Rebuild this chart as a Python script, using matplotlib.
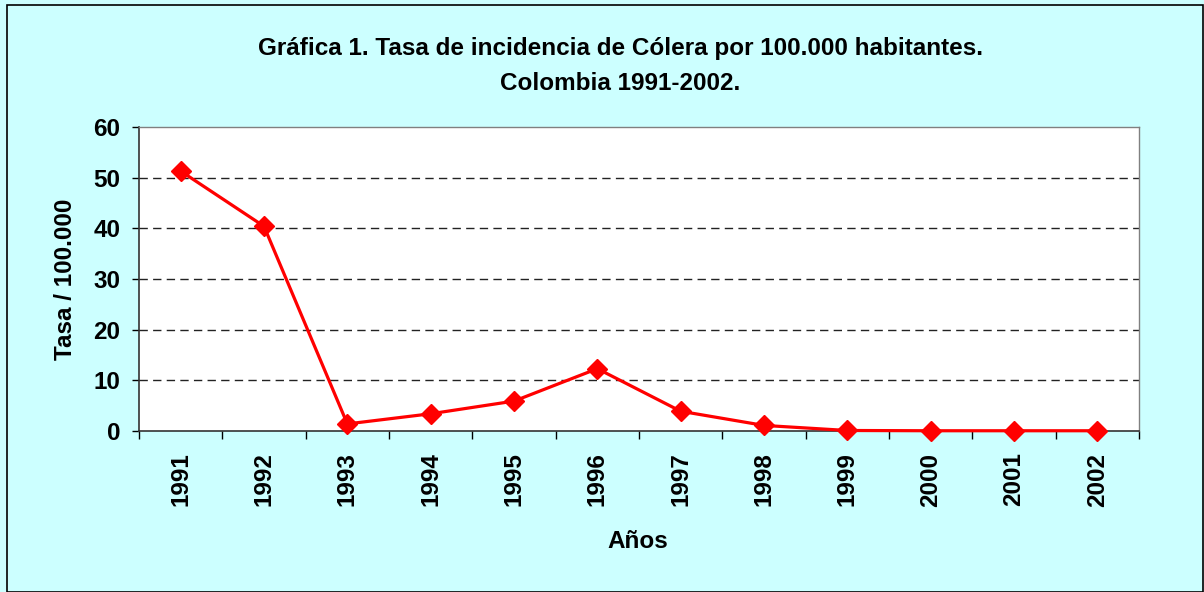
import matplotlib
matplotlib.use("Agg")
import matplotlib.pyplot as plt
from matplotlib.patches import Rectangle
import numpy as np

years = ["1991", "1992", "1993", "1994", "1995", "1996", "1997", "1998", "1999", "2000", "2001", "2002"]
rates = [51.3, 40.4, 1.4, 3.4, 5.9, 12.3, 3.9, 1.1, 0.1, 0.05, 0.05, 0.05]
yticks = [0, 10, 20, 30, 40, 50, 60]

plt.rcParams['font.family'] = ['Liberation Sans', 'DejaVu Sans']
plt.rcParams['font.weight'] = 'bold'

FS = 17.5

fig = plt.figure(figsize=(12.04, 5.92), dpi=100)
fig.patch.set_facecolor('#CCFFFF')
fig.patches.append(Rectangle((7/1204, 0), 1 - 8/1204, 1 - 5/592, transform=fig.transFigure,
                             fill=False, edgecolor='black', linewidth=1.2))

ax = fig.add_axes([139/1204, 1 - 431/592, 1000/1204, 304/592])
ax.set_facecolor('white')
x = np.arange(len(years))
ax.plot(x, rates, color='#FF0000', linewidth=2.3, marker='D', markersize=10, zorder=3, clip_on=False)

ax.set_xlim(-0.5, len(years) - 0.5)
ax.set_ylim(0, 60)
ax.set_yticks(yticks)
ax.set_yticklabels([str(v) for v in yticks], fontsize=FS, fontweight='bold')
ax.set_xticks(x)
ax.set_xticklabels(years, rotation=90, fontsize=FS, fontweight='bold')
ax.tick_params(axis='x', which='major', length=0, pad=15.5)
ax.set_xticks(np.arange(-0.5, len(years)), minor=True)
ax.tick_params(axis='x', which='minor', length=5.5, width=1, color='black', direction='out')
ax.tick_params(axis='y', length=5, width=1, direction='out', pad=8.5)

for v in yticks[1:-1]:
    ax.axhline(v, color='#222222', linestyle=(0, (6, 3.8)), linewidth=1, zorder=1)

for s in ['top', 'right']:
    ax.spines[s].set_color('#808080')
    ax.spines[s].set_linewidth(1)
for s in ['left', 'bottom']:
    ax.spines[s].set_color('#333333')
    ax.spines[s].set_linewidth(1.2)

ax.set_ylabel("Tasa / 100.000", fontsize=FS, fontweight='bold', va='center')
ax.yaxis.set_label_coords((65 - 139) / 1000, 0.5)
ax.set_xlabel("Años", fontsize=FS, fontweight='bold', va='center')
ax.xaxis.set_label_coords((638 - 139) / 1000, (431 - 542) / 304)

fig.text(620/1204, 1 - 48/592, "Gráfica 1. Tasa de incidencia de Cólera por 100.000 habitantes.",
         ha='center', va='center', fontsize=FS, fontweight='bold')
fig.text(620/1204, 1 - 83/592, "Colombia 1991-2002.",
         ha='center', va='center', fontsize=FS, fontweight='bold')

fig.savefig("out.png", dpi=100, facecolor=fig.get_facecolor())
